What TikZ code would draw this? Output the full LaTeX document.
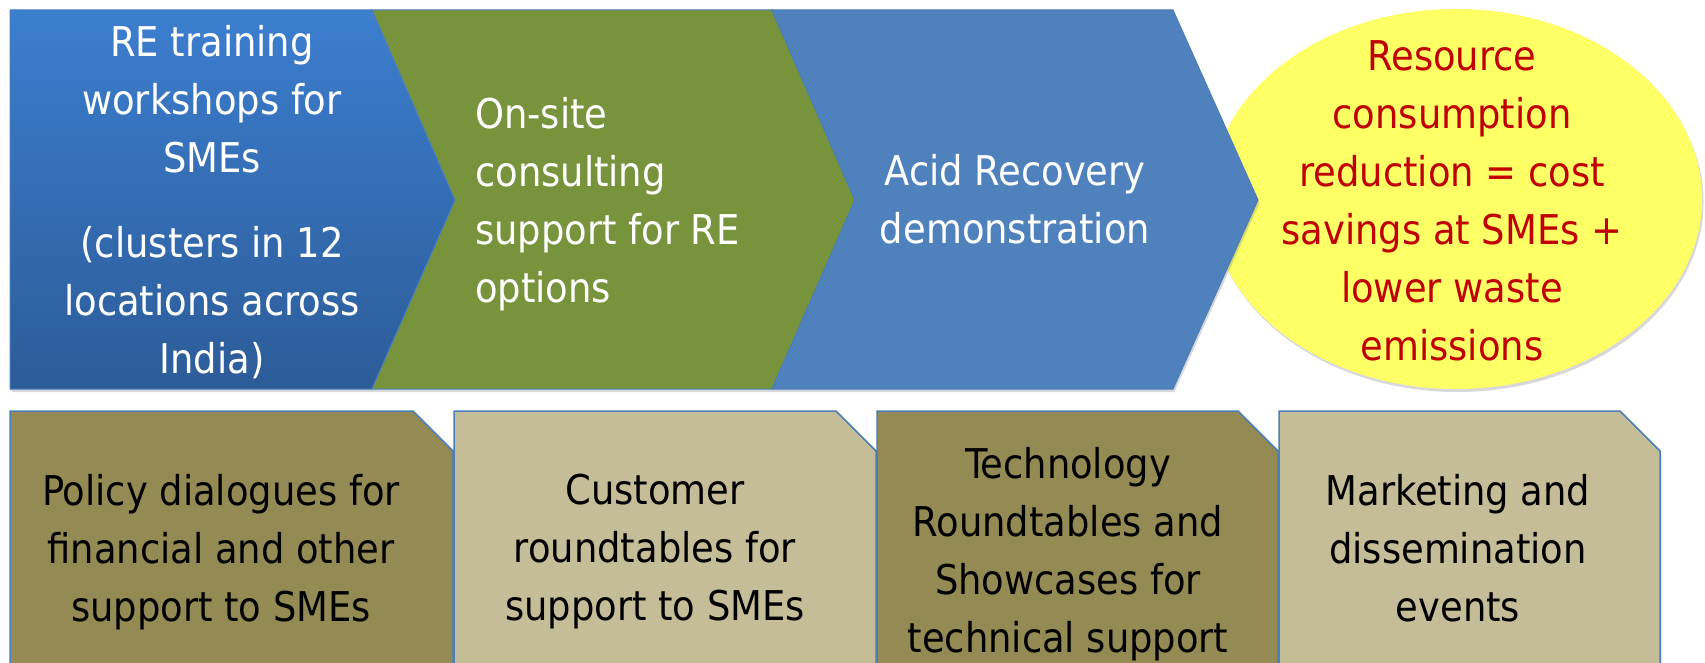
\documentclass[tikz,border=0pt]{standalone}
\usepackage{fontspec}
\setmainfont{DejaVu Sans Condensed}
\usetikzlibrary{shadows}

\definecolor{stepblue}{RGB}{60,126,207}
\definecolor{stepbluedark}{RGB}{44,92,152}
\definecolor{stepgreen}{RGB}{119,147,60}
\definecolor{stepsteel}{RGB}{79,129,189}
\definecolor{edgeblue}{RGB}{74,126,187}
\definecolor{outyellow}{RGB}{255,255,102}
\definecolor{outred}{RGB}{192,0,0}
\definecolor{olivedark}{RGB}{148,138,84}
\definecolor{olivelight}{RGB}{196,189,151}

\tikzset{
  softshadow/.style={drop shadow={opacity=0.3, shadow xshift=1.5pt, shadow yshift=-3pt}},
  chevron/.style={draw=edgeblue, line width=1pt, softshadow},
  card/.style={draw=edgeblue, line width=1.5pt, softshadow},
  steptext/.style={text=white, font=\fontsize{41}{58}\selectfont, inner sep=0pt},
  cardtext/.style={text=black, align=center, font=\fontsize{41}{58}\selectfont, inner sep=0pt},
}

\begin{document}
\begin{tikzpicture}[x=1pt,y=-1pt]
\path[use as bounding box] (0,0) rectangle (1705,663);
\clip (0,0) rectangle (1705,663);
\fill[white] (0,0) rectangle (1705,663);

% The outcome, sitting behind the last step
\fill[outyellow, softshadow] (1456,199) ellipse [x radius=246pt, y radius=190pt];

% The three steps
\draw[chevron, top color=stepblue, bottom color=stepbluedark]
    (10,10) -- (372,10) -- (455,200) -- (372,389) -- (10,389) -- cycle;
\draw[chevron, fill=stepgreen]
    (372,10) -- (772,10) -- (855,200) -- (772,389) -- (372,389) -- (455,200) -- cycle;
\draw[chevron, fill=stepsteel]
    (772,10) -- (1173,10) -- (1258,200) -- (1173,389) -- (772,389) -- (855,200) -- cycle;

\node[steptext, align=center] (training) at (212,202)
    {RE training\\workshops for\\SMEs\\[27pt](clusters in 12\\locations across\\India)};
\node[steptext, align=left, anchor=west] (consulting) at (475,204)
    {On-site\\consulting\\support for RE\\options};
\node[steptext, align=center] (acid) at (1015,199) {Acid Recovery\\demonstration};
\node[steptext, align=center, text=outred] (outcome) at (1452,201)
    {Resource\\consumption\\reduction = cost\\savings at SMEs +\\lower waste\\emissions};

% Supporting activities, cards with a cut corner
\foreach \l/\r/\c in {10/453/olivedark, 454/876/olivelight, 877/1278/olivedark, 1279/1660/olivelight}{
    \draw[card, fill=\c] (\l,411) -- (\r-40,411) -- (\r,451) -- (\r,690) -- (\l,690) -- cycle;
}

\node[cardtext] (policy) at (221,552) {Policy dialogues for\\financial and other\\support to SMEs};
\node[cardtext] (customer) at (655,552) {Customer\\roundtables for\\support to SMEs};
\node[cardtext] (techno) at (1068,554) {Technology\\Roundtables and\\Showcases for\\technical support};
\node[cardtext] (marketing) at (1458,548) {Marketing and\\dissemination\\events};

\end{tikzpicture}
\end{document}
